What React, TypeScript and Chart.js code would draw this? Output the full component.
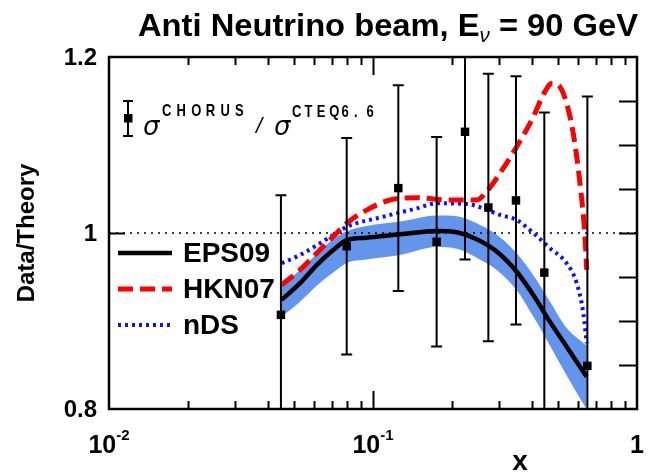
import React, { useEffect, useRef } from "react";
import { Chart, registerables } from "chart.js";

Chart.register(...registerables);

// CHORUS anti-neutrino cross-section ratio, sigma(CHORUS) / sigma(CTEQ6.6)
const dataX = [0.0448, 0.0795, 0.1247, 0.1742, 0.2231, 0.2735, 0.348, 0.4456, 0.6486];
const dataY = [0.907, 0.985, 1.051, 0.99, 1.115, 1.029, 1.037, 0.955, 0.849];
const dataErr = [0.136, 0.123, 0.117, 0.119, 0.145, 0.152, 0.141, 0.182, 0.306];

// EPS09 central prediction and its uncertainty band
const eps09X = [0.0451, 0.0529, 0.0612, 0.0707, 0.0795, 0.0946, 0.1266, 0.1743, 0.2075, 0.2471, 0.2942, 0.3503, 0.4048, 0.4683, 0.5416, 0.6082, 0.6449];
const eps09Y = [0.924, 0.943, 0.9636, 0.9807, 0.992, 0.9947, 0.9985, 1.0023, 1.0008, 0.993, 0.979, 0.956, 0.9295, 0.899, 0.8708, 0.848, 0.8367];
const eps09Up = [0.94, 0.958, 0.976, 0.993, 1.002, 1.008, 1.013, 1.02, 1.019, 1.011, 0.998, 0.977, 0.952, 0.922, 0.892, 0.878, 0.872];
const eps09Lo = [0.905, 0.922, 0.94, 0.955, 0.966, 0.97, 0.975, 0.984, 0.982, 0.972, 0.958, 0.935, 0.905, 0.872, 0.838, 0.812, 0.8];

// HKN07 prediction
const hknX = [0.0451, 0.0529, 0.0612, 0.0707, 0.0795, 0.0946, 0.116, 0.1464, 0.1957, 0.2471, 0.2696, 0.3028, 0.3503, 0.4048, 0.4416, 0.4753, 0.5108, 0.5416, 0.5737, 0.6082, 0.6353, 0.6449];
const hknY = [0.941, 0.958, 0.977, 0.996, 1.011, 1.026, 1.0375, 1.04, 1.0375, 1.0375, 1.047, 1.068, 1.098, 1.132, 1.157, 1.17, 1.166, 1.147, 1.113, 1.0565, 0.996, 0.958];

// nDS prediction
const ndsX = [0.0451, 0.0529, 0.0612, 0.0707, 0.0795, 0.1094, 0.1464, 0.1743, 0.2264, 0.2617, 0.3028, 0.3503, 0.4048, 0.4683, 0.5416, 0.5911, 0.626, 0.6449];
const ndsY = [0.9656, 0.975, 0.986, 0.9977, 1.007, 1.0185, 1.028, 1.0337, 1.033, 1.028, 1.0205, 1.0148, 1.0, 0.9826, 0.9656, 0.943, 0.909, 0.8747];

// Axis ticks and labels
const yLabelValues = [0.8, 1.0, 1.2];
const yLabelTexts = ["0.8", "1", "1.2"];
const yRightTicks = [0.85, 0.9, 0.95, 1.0, 1.05, 1.1, 1.15];
const xDecades = [0.01, 0.1];
const xLabelValues = [0.01, 0.1, 1];
const xLabelBase = ["10", "10", "1"];
const xLabelExp = ["-2", "-1", ""];

const FONT = "'Liberation Sans', Arial, sans-serif";

const pts = (xs: number[], ys: number[]) => xs.map((x, i) => ({ x, y: ys[i] }));

function drawSpaced(ctx: CanvasRenderingContext2D, text: string, x: number, y: number, pitch: number, px: number, sy: number) {
  ctx.save();
  ctx.font = `bold ${px}px ${FONT}`;
  ctx.textBaseline = "alphabetic";
  ctx.textAlign = "left";
  for (let i = 0; i < text.length; i++) {
    ctx.save();
    ctx.translate(x + i * pitch, y);
    ctx.scale(1, sy);
    ctx.fillText(text[i], 0, 0);
    ctx.restore();
  }
  ctx.restore();
}

const errorBars = {
  id: "errorBars",
  beforeDatasetDraw(chart: any, args: any) {
    if (args.index !== 0) return;
    const { ctx, chartArea: a } = chart;
    const xs = chart.scales.x;
    const ys = chart.scales.y;
    ctx.save();
    ctx.beginPath();
    ctx.rect(a.left, a.top, a.right - a.left, a.bottom - a.top);
    ctx.clip();
    ctx.strokeStyle = "#000";
    ctx.lineWidth = 2;
    dataX.forEach((x, i) => {
      const px = xs.getPixelForValue(x);
      const hi = ys.getPixelForValue(dataY[i] + dataErr[i]);
      const lo = ys.getPixelForValue(dataY[i] - dataErr[i]);
      ctx.beginPath();
      ctx.moveTo(px, hi);
      ctx.lineTo(px, lo);
      ctx.moveTo(px - 5.5, hi);
      ctx.lineTo(px + 5.5, hi);
      ctx.moveTo(px - 5.5, lo);
      ctx.lineTo(px + 5.5, lo);
      ctx.stroke();
    });
    ctx.restore();
  },
};

const frame = {
  id: "frame",
  beforeDraw(chart: any) {
    const ctx = chart.ctx;
    ctx.save();
    ctx.fillStyle = "#fff";
    ctx.fillRect(0, 0, chart.width, chart.height);
    ctx.restore();
  },
  afterDraw(chart: any) {
    const { ctx, chartArea: a } = chart;
    const xs = chart.scales.x;
    const ys = chart.scales.y;
    ctx.save();
    ctx.strokeStyle = "#000";
    ctx.fillStyle = "#000";

    // log ticks on bottom and top edges
    ctx.lineWidth = 2;
    ctx.beginPath();
    xDecades.forEach((d) => {
      for (let m = 1; m <= 9; m++) {
        const v = d * m;
        if (v <= 0.01 || v >= 1) continue;
        const px = Math.round(xs.getPixelForValue(v)) + 0.5;
        const len = m === 1 ? 18 : 8;
        ctx.moveTo(px, a.bottom);
        ctx.lineTo(px, a.bottom - len);
        ctx.moveTo(px, a.top);
        ctx.lineTo(px, a.top + len);
      }
    });
    // right edge ticks, and the left tick at unity
    yRightTicks.forEach((v) => {
      const py = Math.round(ys.getPixelForValue(v)) + 0.5;
      ctx.moveTo(a.right, py);
      ctx.lineTo(a.right - 18, py);
    });
    const p1 = Math.round(ys.getPixelForValue(1)) + 0.5;
    ctx.moveTo(a.left, p1);
    ctx.lineTo(a.left + 16, p1);
    ctx.stroke();

    // frame
    ctx.lineWidth = 2.5;
    ctx.strokeRect(a.left, a.top, a.right - a.left, a.bottom - a.top);

    // y tick labels
    ctx.font = `bold 24px ${FONT}`;
    ctx.textAlign = "right";
    ctx.textBaseline = "middle";
    yLabelValues.forEach((v, i) => {
      ctx.fillText(yLabelTexts[i], a.left - 12, ys.getPixelForValue(v) + 1);
    });

    // x tick labels with exponents
    xLabelValues.forEach((v, i) => {
      const px = xs.getPixelForValue(v);
      ctx.font = `bold 25px ${FONT}`;
      const wb = ctx.measureText(xLabelBase[i]).width;
      ctx.font = `bold 15px ${FONT}`;
      const we = xLabelExp[i] ? ctx.measureText(xLabelExp[i]).width : 0;
      const x0 = px - (wb + we) / 2;
      ctx.textAlign = "left";
      ctx.textBaseline = "alphabetic";
      ctx.font = `bold 25px ${FONT}`;
      ctx.fillText(xLabelBase[i], x0, 453);
      if (we) {
        ctx.font = `bold 15px ${FONT}`;
        ctx.fillText(xLabelExp[i], x0 + wb, 440);
      }
    });

    // axis titles
    ctx.font = `bold 28px ${FONT}`;
    ctx.textAlign = "center";
    ctx.textBaseline = "alphabetic";
    ctx.fillText("x", 520, 470);
    ctx.save();
    ctx.translate(34, 233);
    ctx.rotate(-Math.PI / 2);
    ctx.font = `bold 24px ${FONT}`;
    ctx.fillText("Data/Theory", 0, 0);
    ctx.restore();

    // title
    const tBig = `bold 32px ${FONT}`;
    const tSub = `italic 20px ${FONT}`;
    const t1 = "Anti Neutrino beam, E";
    const t2 = "ν";
    const t3 = " = 90 GeV";
    ctx.textAlign = "left";
    ctx.font = tBig;
    const w1 = ctx.measureText(t1).width;
    const w3 = ctx.measureText(t3).width;
    ctx.font = tSub;
    const w2 = ctx.measureText(t2).width;
    const total = w1 + w2 + w3;
    const sx = 500 / total;
    ctx.save();
    ctx.translate(138, 36);
    ctx.scale(sx, 1);
    ctx.font = tBig;
    ctx.fillText(t1, 0, 0);
    ctx.font = tSub;
    ctx.fillText(t2, w1, 6);
    ctx.font = tBig;
    ctx.fillText(t3, w1 + w2, 0);
    ctx.restore();

    // legend
    const legendRows = [
      { label: "EPS09", color: "#000", dash: [] as number[], width: 4.5, y: 253 },
      { label: "HKN07", color: "#ff0000", dash: [15, 7], width: 5, y: 289 },
      { label: "nDS", color: "#1010ff", dash: [3, 4], width: 4, y: 325 },
    ];
    legendRows.forEach((r) => {
      ctx.save();
      ctx.strokeStyle = r.color;
      ctx.lineWidth = r.width;
      ctx.setLineDash(r.dash);
      ctx.lineCap = "butt";
      ctx.beginPath();
      ctx.moveTo(118, r.y);
      ctx.lineTo(172, r.y);
      ctx.stroke();
      ctx.restore();
      ctx.font = `bold 28px ${FONT}`;
      ctx.textAlign = "left";
      ctx.textBaseline = "middle";
      ctx.fillText(r.label, 183, r.y + 1);
    });

    // data legend: error-bar symbol and sigma ratio
    ctx.lineWidth = 2;
    ctx.beginPath();
    ctx.moveTo(128, 101);
    ctx.lineTo(128, 136);
    ctx.moveTo(123, 101);
    ctx.lineTo(133, 101);
    ctx.moveTo(123, 136);
    ctx.lineTo(133, 136);
    ctx.stroke();
    ctx.fillRect(124, 114, 8.5, 8.5);
    ctx.textAlign = "left";
    ctx.textBaseline = "alphabetic";
    ctx.font = `italic 26px 'DejaVu Sans', ${FONT}`;
    ctx.fillText("σ", 143, 135);
    drawSpaced(ctx, "CHORUS", 162, 116, 14.6, 13, 1.3);
    ctx.font = `italic 22px ${FONT}`;
    ctx.fillText("/", 256, 133);
    ctx.font = `italic 26px 'DejaVu Sans', ${FONT}`;
    ctx.fillText("σ", 274, 135);
    drawSpaced(ctx, "CTEQ6.6", 292, 117, 12.4, 13, 1.3);

    ctx.restore();
  },
};

export default function App() {
  const ref = useRef<HTMLCanvasElement>(null);

  useEffect(() => {
    document.body.style.margin = "0";
    const canvas = ref.current!;
    const chart = new Chart(canvas, {
      type: "scatter",
      data: {
        datasets: [
          {
            label: "CHORUS",
            data: pts(dataX, dataY),
            pointStyle: "rect",
            pointRadius: 6,
            backgroundColor: "#000",
            borderWidth: 0,
          },
          {
            label: "EPS09",
            data: pts(eps09X, eps09Y),
            showLine: true,
            borderColor: "#000",
            borderWidth: 4.5,
            pointRadius: 0,
            cubicInterpolationMode: "monotone",
          },
          {
            label: "HKN07",
            data: pts(hknX, hknY),
            showLine: true,
            borderColor: "#ff0000",
            borderWidth: 5,
            borderDash: [15, 7],
            pointRadius: 0,
            cubicInterpolationMode: "monotone",
          },
          {
            label: "nDS",
            data: pts(ndsX, ndsY),
            showLine: true,
            borderColor: "#1010ff",
            borderWidth: 4,
            borderDash: [3, 4],
            pointRadius: 0,
            cubicInterpolationMode: "monotone",
          },
          {
            label: "unity",
            data: [{ x: 0.01, y: 1 }, { x: 1, y: 1 }],
            showLine: true,
            borderColor: "#000",
            borderWidth: 1.6,
            borderDash: [2, 5],
            pointRadius: 0,
          },
          {
            label: "EPS09 upper",
            data: pts(eps09X, eps09Up),
            showLine: true,
            borderWidth: 0,
            borderColor: "rgba(0,0,0,0)",
            backgroundColor: "#6495ed",
            fill: "+1",
            pointRadius: 0,
            cubicInterpolationMode: "monotone",
          },
          {
            label: "EPS09 lower",
            data: pts(eps09X, eps09Lo),
            showLine: true,
            borderWidth: 0,
            borderColor: "rgba(0,0,0,0)",
            pointRadius: 0,
            cubicInterpolationMode: "monotone",
          },
        ],
      },
      options: {
        animation: false,
        responsive: false,
        devicePixelRatio: 1,
        layout: { padding: { left: 109, right: 11, top: 57, bottom: 63 } },
        plugins: { legend: { display: false }, tooltip: { enabled: false } },
        scales: {
          x: { type: "logarithmic", min: 0.01, max: 1, display: false },
          y: { type: "linear", min: 0.8, max: 1.2, display: false },
        },
      },
      plugins: [errorBars, frame],
    });
    return () => chart.destroy();
  }, []);

  return <canvas ref={ref} width={648} height={472} style={{ display: "block" }} />;
}
